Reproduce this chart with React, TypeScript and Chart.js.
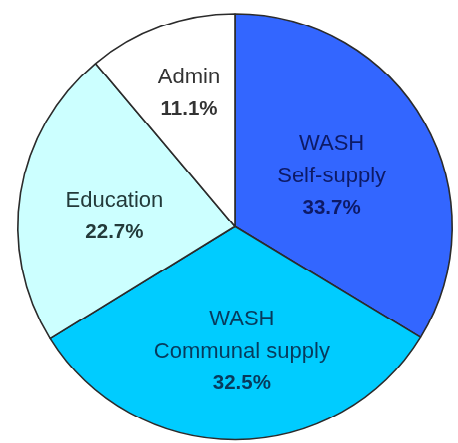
import React, { useEffect, useRef } from "react";
import { Chart, registerables } from "chart.js";

Chart.register(...registerables);

const categories = ["WASH Self-supply", "WASH Communal supply", "Education", "Admin"];
const values = [33.7, 32.5, 22.7, 11.1];
const labelLines = [["WASH", "Self-supply"], ["WASH", "Communal supply"], ["Education"], ["Admin"]];
const percentLabels = ["33.7%", "32.5%", "22.7%", "11.1%"];

const colors = ["#3366FF", "#00CCFF", "#CCFFFF", "#FFFFFF"];
const textColors = ["#0d1a66", "#073a5c", "#233a3a", "#333333"];
// label anchor: radial fraction, angle offset (deg)
const labelFrac = [0.504, 0.588, 0.557, 0.661];
const labelAngOff = [1.3, -2.9, -4.6, 1.3];

const labelPlugin = {
  id: "sliceLabels",
  afterDatasetsDraw(chart: any) {
    const ctx = chart.ctx;
    const meta = chart.getDatasetMeta(0);
    meta.data.forEach((arc: any, i: number) => {
      const p = arc.getProps(["x", "y", "startAngle", "endAngle", "outerRadius"], true);
      const mid = (p.startAngle + p.endAngle) / 2 + (labelAngOff[i] * Math.PI) / 180;
      const r = p.outerRadius * labelFrac[i];
      const cx = p.x + Math.cos(mid) * r;
      const cy = p.y + Math.sin(mid) * r;
      const lines = [...labelLines[i], percentLabels[i]];
      const lh = 32.5;
      const top = cy - ((lines.length - 1) * lh) / 2;
      ctx.save();
      ctx.textAlign = "center";
      ctx.textBaseline = "middle";
      ctx.fillStyle = textColors[i];
      lines.forEach((t, j) => {
        const bold = j === lines.length - 1;
        ctx.font = bold
          ? "bold 20.5px 'Liberation Sans', Arial, sans-serif"
          : "22px 'Liberation Sans', Arial, sans-serif";
        ctx.fillText(t, cx, top + j * lh);
      });
      ctx.restore();
    });
  },
};

export default function App() {
  const ref = useRef<HTMLCanvasElement>(null);
  useEffect(() => {
    document.body.style.margin = "0";
    document.body.style.overflow = "hidden";
    const chart = new Chart(ref.current!, {
      type: "pie",
      data: {
        labels: categories,
        datasets: [
          {
            data: values,
            backgroundColor: colors,
            borderColor: "#2b2b2b",
            borderWidth: 1.6,
          },
        ],
      },
      options: {
        animation: false,
        responsive: false,
        events: [],
        layout: { padding: { top: 13, bottom: 2.5, left: 17, right: 5 } },
        plugins: {
          legend: { display: false },
          tooltip: { enabled: false },
          title: { display: false },
        },
      },
      plugins: [labelPlugin],
    });
    return () => chart.destroy();
  }, []);
  return (
    <div
      style={{
        position: "fixed",
        left: 0,
        top: 0,
        width: 458,
        height: 452,
        transform: "scaleY(0.98)",
        transformOrigin: "0 0",
        background: "#fff",
      }}
    >
      <canvas ref={ref} width={458} height={452} style={{ width: 458, height: 452, display: "block" }} />
    </div>
  );
}
